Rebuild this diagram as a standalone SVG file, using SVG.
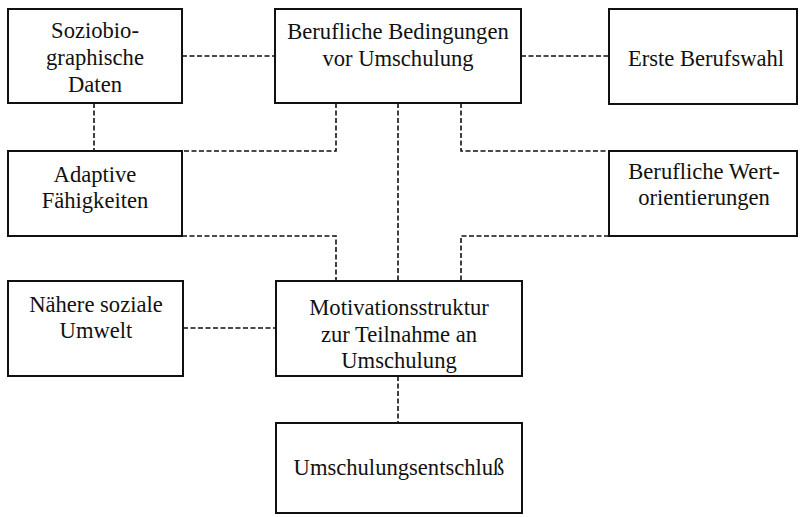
<svg xmlns="http://www.w3.org/2000/svg" width="802" height="517" viewBox="0 0 802 517">
<style>
.box{fill:#fff;stroke:#111;stroke-width:2}
.t{font-family:"Liberation Serif","Times New Roman",serif;font-size:22.6px;fill:#111;text-anchor:middle}
.c{fill:none;stroke:#111;stroke-width:1.6;stroke-dasharray:5 2.5}
</style>
<rect width="802" height="517" fill="#fff"/>
<g id="connectors">
<path class="c" d="M182,56H275"/>
<path class="c" d="M521,56H609"/>
<path class="c" d="M94,103V151"/>
<path class="c" d="M336,103V151H182"/>
<path class="c" d="M398,103V281"/>
<path class="c" d="M461,103V151H609"/>
<path class="c" d="M182,236H336V281"/>
<path class="c" d="M609,236H461V281"/>
<path class="c" d="M183,328H276"/>
<path class="c" d="M398,376V423"/>
</g>
<g id="soziobiographische-daten">
<rect class="box" x="8" y="9" width="174" height="94"/>
<text class="t" x="95" y="38">Soziobio-</text>
<text class="t" x="95" y="65">graphische</text>
<text class="t" x="95" y="92">Daten</text>
</g>
<g id="berufliche-bedingungen">
<rect class="box" x="275" y="9" width="246" height="94"/>
<text class="t" x="398" y="39">Berufliche Bedingungen</text>
<text class="t" x="398" y="66">vor Umschulung</text>
</g>
<g id="erste-berufswahl">
<rect class="box" x="609" y="9" width="188" height="95"/>
<text class="t" x="706" y="66">Erste Berufswahl</text>
</g>
<g id="adaptive-faehigkeiten">
<rect class="box" x="8" y="151" width="174" height="85"/>
<text class="t" x="95" y="182">Adaptive</text>
<text class="t" x="95" y="208">Fähigkeiten</text>
</g>
<g id="berufliche-wertorientierungen">
<rect class="box" x="609" y="151" width="188" height="85"/>
<text class="t" x="704" y="179">Berufliche Wert-</text>
<text class="t" x="704" y="205">orientierungen</text>
</g>
<g id="naehere-soziale-umwelt">
<rect class="box" x="8" y="281" width="175" height="95"/>
<text class="t" x="96" y="312">Nähere soziale</text>
<text class="t" x="96" y="338">Umwelt</text>
</g>
<g id="motivationsstruktur">
<rect class="box" x="276" y="281" width="246" height="95"/>
<text class="t" x="399" y="315">Motivationsstruktur</text>
<text class="t" x="399" y="342">zur Teilnahme an</text>
<text class="t" x="399" y="368">Umschulung</text>
</g>
<g id="umschulungsentschluss">
<rect class="box" x="276" y="423" width="246" height="90"/>
<text class="t" x="399" y="475">Umschulungsentschluß</text>
</g>
</svg>
